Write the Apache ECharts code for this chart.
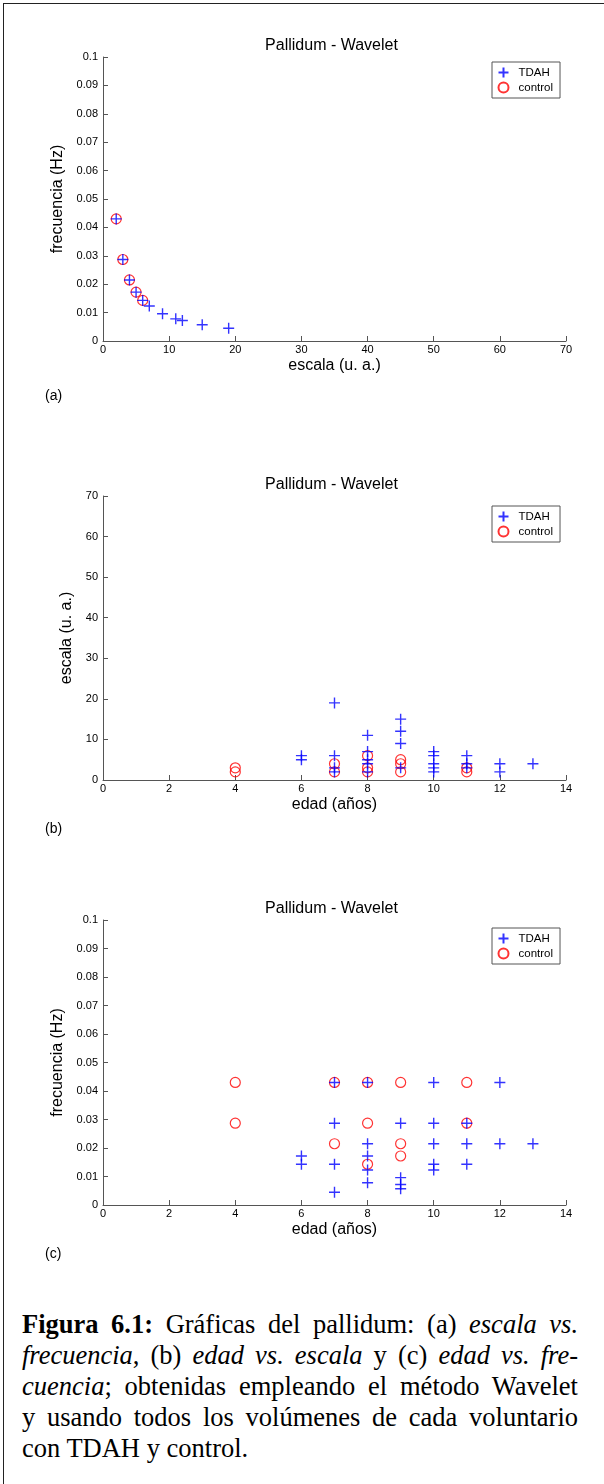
<!DOCTYPE html>
<html><head><meta charset="utf-8">
<script src="https://cdn.jsdelivr.net/npm/echarts@6/dist/echarts.min.js"></script>
<style>
html,body{margin:0;padding:0;background:#fff;}
#frame{position:absolute;left:3px;top:3px;width:601px;height:1481px;border-left:1px solid #222;border-top:1px solid #222;box-sizing:border-box;}
#chart{position:absolute;left:0;top:0;width:604px;height:1300px;}
#caption{position:absolute;left:22px;top:1309px;width:556px;font-family:"Liberation Serif",serif;font-size:26.5px;line-height:31px;color:#000;}
#caption div{text-align:justify;text-align-last:justify;}
#caption div.last{text-align-last:left;}
</style>
</head><body>
<div id="frame"></div>
<div id="chart"></div>
<div id="caption">
<div><b>Figura 6.1:</b> Gráficas del pallidum: (a) <i>escala vs.</i></div>
<div><i>frecuencia</i>, (b) <i>edad vs. escala</i> y (c) <i>edad vs. fre-</i></div>
<div><i>cuencia</i>; obtenidas empleando el método Wavelet</div>
<div>y usando todos los volúmenes de cada voluntario</div>
<div class="last">con TDAH y control.</div>
</div>
<script>
// ---- data ----
const scaleA_TDAH = [2,3,4,5,6,7,9,11,12,15,19];
const freqA_TDAH = [0.0430,0.0287,0.0215,0.0172,0.0143,0.0123,0.0096,0.0078,0.0072,0.0057,0.0045];
const scaleA_control = [2,3,4,5,6];
const freqA_control = [0.0430,0.0287,0.0215,0.0172,0.0143];

const ageB_TDAH = [6,6,7,7,7,7,8,8,8,8,8,9,9,9,9,10,10,10,10,10,11,11,11,12,12,13];
const scaleB_TDAH = [5,6,2,3,6,19,2,4,5,7,11,3,9,12,15,2,3,4,6,7,3,4,6,2,4,4];
const ageB_control = [4,4,7,7,8,8,8,9,9,9,11,11];
const scaleB_control = [2,3,2,4,2,3,6,2,4,5,2,3];

const ageC_TDAH = [6,6,7,7,7,7,8,8,8,8,8,9,9,9,9,10,10,10,10,10,11,11,11,12,12,13];
const freqC_TDAH = [0.0172,0.0143,0.0430,0.0287,0.0143,0.0045,0.0430,0.0215,0.0172,0.0123,0.0078,0.0287,0.0096,0.0072,0.0057,0.0430,0.0287,0.0215,0.0143,0.0123,0.0287,0.0215,0.0143,0.0430,0.0215,0.0215];
const ageC_control = [4,4,7,7,8,8,8,9,9,9,11,11];
const freqC_control = [0.0430,0.0287,0.0430,0.0215,0.0430,0.0287,0.0143,0.0430,0.0215,0.0172,0.0430,0.0287];

const titleText = 'Pallidum - Wavelet';
const panelLabels = ['(a)','(b)','(c)'];
const seriesNames = ['TDAH','control'];

// ---- layout ----
const FONT = 'Liberation Sans';
const grids = [
  {left:103, top:57, width:463, height:284},
  {left:103, top:496, width:463, height:284},
  {left:103, top:920, width:463, height:285}
];
const zip = (a,b) => a.map((v,i)=>[v,b[i]]);
const plusPath = 'path://M0,5L10,5M5,0L5,10';

function xAxisCfg(gi, min, max, interval, name){
  return {gridIndex:gi, type:'value', min, max, interval, name, nameLocation:'middle', nameGap:17,
    nameTextStyle:{fontSize:16, color:'#000', fontFamily:FONT},
    axisLine:{show:true, onZero:false, lineStyle:{color:'#555', width:1}},
    axisTick:{show:true, inside:true, length:5, lineStyle:{color:'#555'}},
    axisLabel:{fontSize:11, color:'#000', margin:3, fontFamily:FONT},
    splitLine:{show:false}};
}
function yAxisCfg(gi, min, max, interval, name, gap, fmt){
  return {gridIndex:gi, type:'value', min, max, interval, name, nameLocation:'middle', nameGap:gap,
    nameTextStyle:{fontSize:16, color:'#000', fontFamily:FONT},
    axisLine:{show:true, onZero:false, lineStyle:{color:'#555', width:1}},
    axisTick:{show:true, inside:true, length:5, lineStyle:{color:'#555'}},
    axisLabel:{fontSize:11, color:'#000', margin:5, fontFamily:FONT, formatter:fmt},
    splitLine:{show:false}};
}
const fmtFreq = v => v===0 ? '0' : String(+v.toFixed(2));
const fmtInt = v => String(v);

function tdah(gi, data){
  return {name:'TDAH', type:'scatter', xAxisIndex:gi, yAxisIndex:gi, data, symbol:plusPath, symbolSize:11,
    itemStyle:{color:'none', borderColor:'#0000ff', borderWidth:1.4}, z:3, animation:false};
}
function ctrl(gi, data){
  return {name:'control', type:'scatter', xAxisIndex:gi, yAxisIndex:gi, data, symbol:'circle', symbolSize:10,
    itemStyle:{color:'none', borderColor:'#ff0000', borderWidth:1.2}, z:2, animation:false};
}
function legendCfg(top){
  return {top, left:492, orient:'vertical', itemWidth:20, itemHeight:10, itemGap:0, padding:[3,7,3,4],
    borderColor:'#555', borderWidth:1, backgroundColor:'#fff', selectedMode:false,
    textStyle:{fontSize:11.5, color:'#000', fontFamily:FONT, lineHeight:12}, data:seriesNames};
}

const chart = echarts.init(document.getElementById('chart'), null, {renderer:'canvas'});
chart.setOption({
  animation:false,
  backgroundColor:'transparent',
  title: grids.map(g => ({text:titleText, left:g.left+g.width/2 - 8, top:g.top-24, textAlign:'center',
    textStyle:{fontSize:16, fontWeight:'normal', color:'#000', fontFamily:FONT}})),
  grid: grids,
  legend: [legendCfg(62), legendCfg(506), legendCfg(928)],
  xAxis: [xAxisCfg(0,0,70,10,'escala (u. a.)'), xAxisCfg(1,0,14,2,'edad (años)'), xAxisCfg(2,0,14,2,'edad (años)')],
  yAxis: [yAxisCfg(0,0,0.1,0.01,'frecuencia (Hz)',30,fmtFreq), yAxisCfg(1,0,70,10,'escala (u. a.)',21,fmtInt), yAxisCfg(2,0,0.1,0.01,'frecuencia (Hz)',30,fmtFreq)],
  series: [
    ctrl(0, zip(scaleA_control, freqA_control)), tdah(0, zip(scaleA_TDAH, freqA_TDAH)),
    ctrl(1, zip(ageB_control, scaleB_control)), tdah(1, zip(ageB_TDAH, scaleB_TDAH)),
    ctrl(2, zip(ageC_control, freqC_control)), tdah(2, zip(ageC_TDAH, freqC_TDAH))
  ],
  graphic: [
    {type:'text', left:45, top:389, style:{text:panelLabels[0], fontSize:14, fill:'#000', fontFamily:FONT}},
    {type:'text', left:45, top:822, style:{text:panelLabels[1], fontSize:14, fill:'#000', fontFamily:FONT}},
    {type:'text', left:45, top:1247, style:{text:panelLabels[2], fontSize:14, fill:'#000', fontFamily:FONT}}
  ]
});
</script>
</body></html>
